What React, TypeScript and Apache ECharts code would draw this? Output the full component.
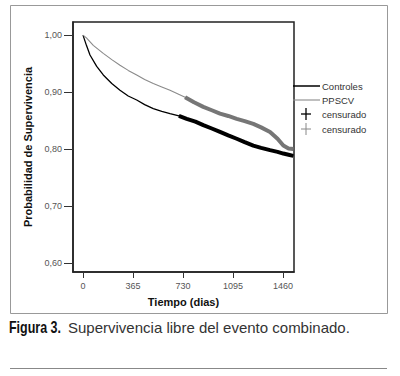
import React, { useEffect, useRef } from "react";
import * as echarts from "echarts";

// Time in days and survival probability
const ctrlDays = [0, 25, 51, 100, 148, 210, 270, 330, 392, 450, 513, 575, 635, 700, 757, 820, 878, 940, 1000, 1060, 1122, 1180, 1243, 1300, 1365, 1420, 1462, 1500, 1535];
const ctrlSurv = [1.0, 0.982, 0.965, 0.945, 0.93, 0.915, 0.903, 0.893, 0.886, 0.878, 0.871, 0.866, 0.862, 0.858, 0.853, 0.848, 0.842, 0.836, 0.83, 0.824, 0.818, 0.812, 0.806, 0.802, 0.798, 0.795, 0.792, 0.79, 0.788];

const ppsDays = [0, 25, 75, 148, 210, 270, 330, 392, 450, 513, 575, 635, 690, 745, 810, 878, 940, 1000, 1060, 1122, 1180, 1243, 1300, 1365, 1420, 1462, 1500, 1535];
const ppsSurv = [1.0, 0.995, 0.982, 0.968, 0.957, 0.947, 0.938, 0.93, 0.922, 0.915, 0.909, 0.903, 0.897, 0.891, 0.882, 0.874, 0.868, 0.862, 0.858, 0.853, 0.849, 0.844, 0.838, 0.83, 0.818, 0.806, 0.801, 0.8];

const censorStart = 730;
const xTicks = [0, 365, 730, 1095, 1460];
const yTicks = [0.6, 0.7, 0.8, 0.9, 1.0];
const legendItems = ["Controles", "PPSCV", "censurado", "censurado"];

const pairs = (d: number[], s: number[]) => d.map((t, i) => [t, s[i]]);
const censored = (d: number[], s: number[]) => {
  const out: number[][] = [];
  d.forEach((t, i) => {
    if (t >= censorStart - 30) out.push([t, s[i]]);
  });
  return out;
};

export default function App() {
  const ref = useRef<HTMLDivElement>(null);
  useEffect(() => {
    if (!ref.current) return;
    const chart = echarts.init(ref.current, null, { renderer: "svg" });
    const font = "Arial, 'Liberation Sans', Helvetica, sans-serif";
    const lx1 = 293, lx2 = 320, tx = 322;
    const rows = [86, 100, 114, 129];
    const plus = (cx: number, cy: number, color: string, w: number) => [
      { type: "line", shape: { x1: cx - 5, y1: cy, x2: cx + 5, y2: cy }, style: { stroke: color, lineWidth: w } },
      { type: "line", shape: { x1: cx, y1: cy - 6, x2: cx, y2: cy + 6 }, style: { stroke: color, lineWidth: w } },
    ];
    chart.setOption({
      animation: false,
      backgroundColor: "#fff",
      grid: {
        left: 73,
        top: 22,
        width: 221,
        height: 250,
        show: true,
        borderColor: "#222",
        borderWidth: 1.5,
        backgroundColor: "transparent",
      },
      xAxis: {
        type: "value",
        min: -73,
        max: 1540,
        name: "Tiempo (dias)",
        nameLocation: "middle",
        nameGap: 24,
        nameTextStyle: { fontFamily: font, fontSize: 11, fontWeight: "bold", color: "#111" },
        axisLine: { show: true, onZero: false, lineStyle: { color: "#222", width: 1.5 } },
        axisTick: { show: true, length: 6, customValues: xTicks, lineStyle: { color: "#333" } },
        axisLabel: {
          customValues: xTicks,
          fontFamily: font,
          fontSize: 9,
          color: "#555",
          margin: 9,
          formatter: (v: number) => String(v),
        },
        splitLine: { show: false },
      },
      yAxis: {
        type: "value",
        min: 0.584,
        max: 1.023,
        name: "Probabilidad de Supervivencia",
        nameLocation: "middle",
        nameRotate: 90,
        nameGap: 30,
        nameTextStyle: { fontFamily: font, fontSize: 11, fontWeight: "bold", color: "#111" },
        axisLine: { show: true, onZero: false, lineStyle: { color: "#222", width: 1.5 } },
        axisTick: { show: true, length: 9, customValues: yTicks, lineStyle: { color: "#333" } },
        axisLabel: {
          customValues: yTicks,
          fontFamily: font,
          fontSize: 9,
          color: "#555",
          margin: 11,
          formatter: (v: number) => v.toFixed(2).replace(".", ","),
        },
        splitLine: { show: false },
      },
      series: [
        {
          name: "Controles",
          type: "line",
          data: pairs(ctrlDays, ctrlSurv),
          showSymbol: false,
          lineStyle: { color: "#000", width: 1.3 },
        },
        {
          name: "PPSCV",
          type: "line",
          data: pairs(ppsDays, ppsSurv),
          showSymbol: false,
          lineStyle: { color: "#8a8a8a", width: 1.1 },
        },
        {
          name: "Controles censurado",
          type: "line",
          data: censored(ctrlDays, ctrlSurv),
          showSymbol: false,
          lineStyle: { color: "#000", width: 4 },
        },
        {
          name: "PPSCV censurado",
          type: "line",
          data: censored(ppsDays, ppsSurv),
          showSymbol: false,
          lineStyle: { color: "#767676", width: 4 },
        },
      ],
      graphic: [
        {
          type: "rect",
          shape: { x: 10.5, y: 5.5, width: 377, height: 308 },
          style: { fill: "none", stroke: "#999", lineWidth: 1 },
          z: -1,
        },
        { type: "line", shape: { x1: lx1, y1: rows[0], x2: lx2, y2: rows[0] }, style: { stroke: "#000", lineWidth: 1.5 } },
        { type: "line", shape: { x1: lx1, y1: rows[1], x2: lx2, y2: rows[1] }, style: { stroke: "#8a8a8a", lineWidth: 1.1 } },
        ...plus(306, rows[2], "#000", 1.3),
        ...plus(306, rows[3], "#888", 1),
        ...legendItems.map((t, i) => ({
          type: "text",
          x: tx,
          y: rows[i],
          style: { text: t, fontFamily: font, fontSize: 9.5, fill: "#333", verticalAlign: "middle", textAlign: "left" },
        })),
        {
          type: "text",
          x: 9,
          y: 327,
          scaleX: 0.78,
          style: {
            text: "Figura 3.",
            fontFamily: font,
            fontWeight: "bold",
            fontSize: 16,
            fill: "#111",
            verticalAlign: "middle",
            textAlign: "left",
          },
        },
        {
          type: "text",
          x: 68,
          y: 327,
          style: {
            text: "Supervivencia libre del evento combinado.",
            fontFamily: font,
            fontSize: 15,
            fill: "#333",
            verticalAlign: "middle",
            textAlign: "left",
          },
        },
        {
          type: "line",
          shape: { x1: 10, y1: 368.5, x2: 387, y2: 368.5 },
          style: { stroke: "#888", lineWidth: 1 },
        },
      ],
    });
    return () => chart.dispose();
  }, []);
  return (
    <div
      ref={ref}
      style={{ position: "fixed", left: 0, top: 0, width: 400, height: 376, background: "#fff" }}
    />
  );
}
